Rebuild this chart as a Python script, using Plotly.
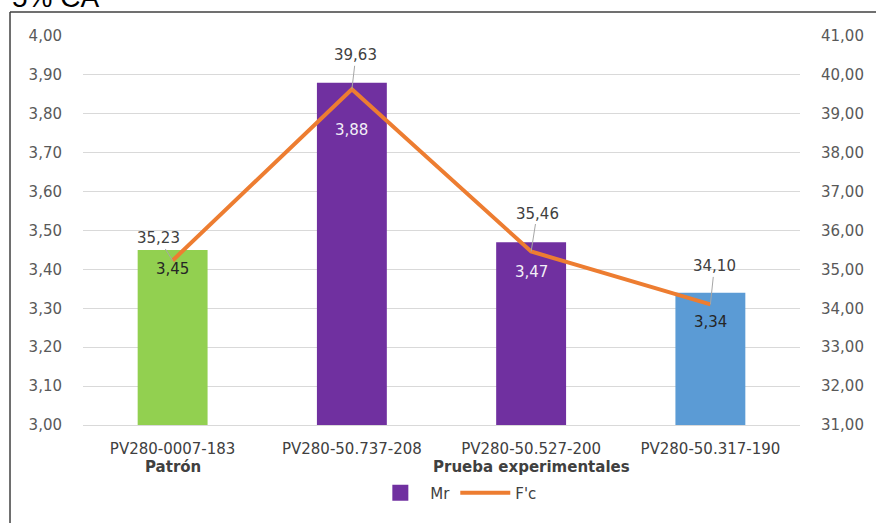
import plotly.graph_objects as go

categories = ["PV280-0007-183", "PV280-50.737-208", "PV280-50.527-200", "PV280-50.317-190"]
mr_values = [3.45, 3.88, 3.47, 3.34]
fc_values = [35.23, 39.63, 35.46, 34.10]
group_labels = ["Patrón", "Prueba experimentales"]
group_centers = [categories[0], categories[2]]
title_text = "5% CA"

bar_colors = ["#92D050", "#7030A0", "#7030A0", "#5B9BD5"]
bar_text_colors = ["#262626", "#F2EEF7", "#F2EEF7", "#262626"]
bar_label_shifts = [-19, -47, -30, -29]
fc_label_offsets = [(-14, -22), (4, -34), (6, -38), (4, -38)]

FONT = "DejaVu Sans"
TICK_COLOR = "#595959"

fig = go.Figure()

fig.add_trace(go.Bar(
    x=categories, y=mr_values, name="Mr",
    marker=dict(color=bar_colors, line=dict(width=0)),
    width=0.39, showlegend=False,
))

fig.add_trace(go.Scatter(
    x=[None], y=[None], mode="markers", name="Mr",
    marker=dict(symbol="square", size=16, color="#7030A0"),
))

fig.add_trace(go.Scatter(
    x=categories, y=fc_values, name="F'c", yaxis="y2",
    mode="lines", line=dict(color="#ED7D31", width=4),
))

for cat, v, shift, col in zip(categories, mr_values, bar_label_shifts, bar_text_colors):
    fig.add_annotation(
        x=cat, y=v, xref="x", yref="y", yshift=shift,
        text=f"{v:.2f}".replace(".", ","), showarrow=False,
        font=dict(family=FONT, size=15, color=col),
    )

for cat, v, (ax, ay) in zip(categories, fc_values, fc_label_offsets):
    fig.add_annotation(
        x=cat, y=v, xref="x", yref="y2",
        text=f"{v:.2f}".replace(".", ","),
        showarrow=True, arrowhead=0, arrowwidth=1, arrowcolor="#A6A6A6",
        ax=ax, ay=ay, font=dict(family=FONT, size=15, color="#404040"),
    )

for lab, cat in zip(group_labels, group_centers):
    fig.add_annotation(
        x=cat, y=-0.108, xref="x", yref="paper", yanchor="middle",
        text=f"<b>{lab}</b>", showarrow=False,
        font=dict(family=FONT, size=15, color="#404040"),
    )

fig.add_annotation(
    x=-0.102, y=1.098, xref="paper", yref="paper", xanchor="left", yanchor="middle",
    text=title_text, showarrow=False,
    font=dict(family="Liberation Sans", size=28, color="#000000"),
)

# frame lines
fig.add_shape(type="line", xref="paper", yref="paper",
              x0=-0.1018, y0=1.0617, x1=1.12, y1=1.0617,
              line=dict(color="#404040", width=1.5))
fig.add_shape(type="line", xref="paper", yref="paper",
              x0=-0.1018, y0=1.0617, x1=-0.1018, y1=-0.27,
              line=dict(color="#404040", width=1.5))

fig.update_layout(
    width=876, height=523,
    margin=dict(l=83, r=76, t=36, b=98),
    paper_bgcolor="white", plot_bgcolor="white",
    separators=", ",
    barmode="overlay",
    font=dict(family=FONT, size=15, color=TICK_COLOR),
    xaxis=dict(
        type="category", showgrid=False, showline=True, linecolor="#D9D9D9", linewidth=1,
        ticks="", tickfont=dict(family=FONT, size=15, color="#404040"),
        ticklabelstandoff=10,
    ),
    yaxis=dict(
        range=[3, 4], dtick=0.1, tickformat=".2f",
        showgrid=True, gridcolor="#D9D9D9", gridwidth=1, zeroline=False,
        tickfont=dict(family=FONT, size=15, color=TICK_COLOR),
        ticklabelstandoff=20,
    ),
    yaxis2=dict(
        range=[31, 41], dtick=1, tickformat=".2f", overlaying="y", side="right",
        showgrid=False, zeroline=False,
        tickfont=dict(family=FONT, size=15, color=TICK_COLOR),
        ticklabelstandoff=20,
    ),
    legend=dict(
        orientation="h", x=0.52, xanchor="center", y=-0.175, yanchor="middle",
        font=dict(family=FONT, size=15, color="#404040"),
        bgcolor="rgba(0,0,0,0)", itemwidth=50,
    ),
)

fig.write_html("out.html")
